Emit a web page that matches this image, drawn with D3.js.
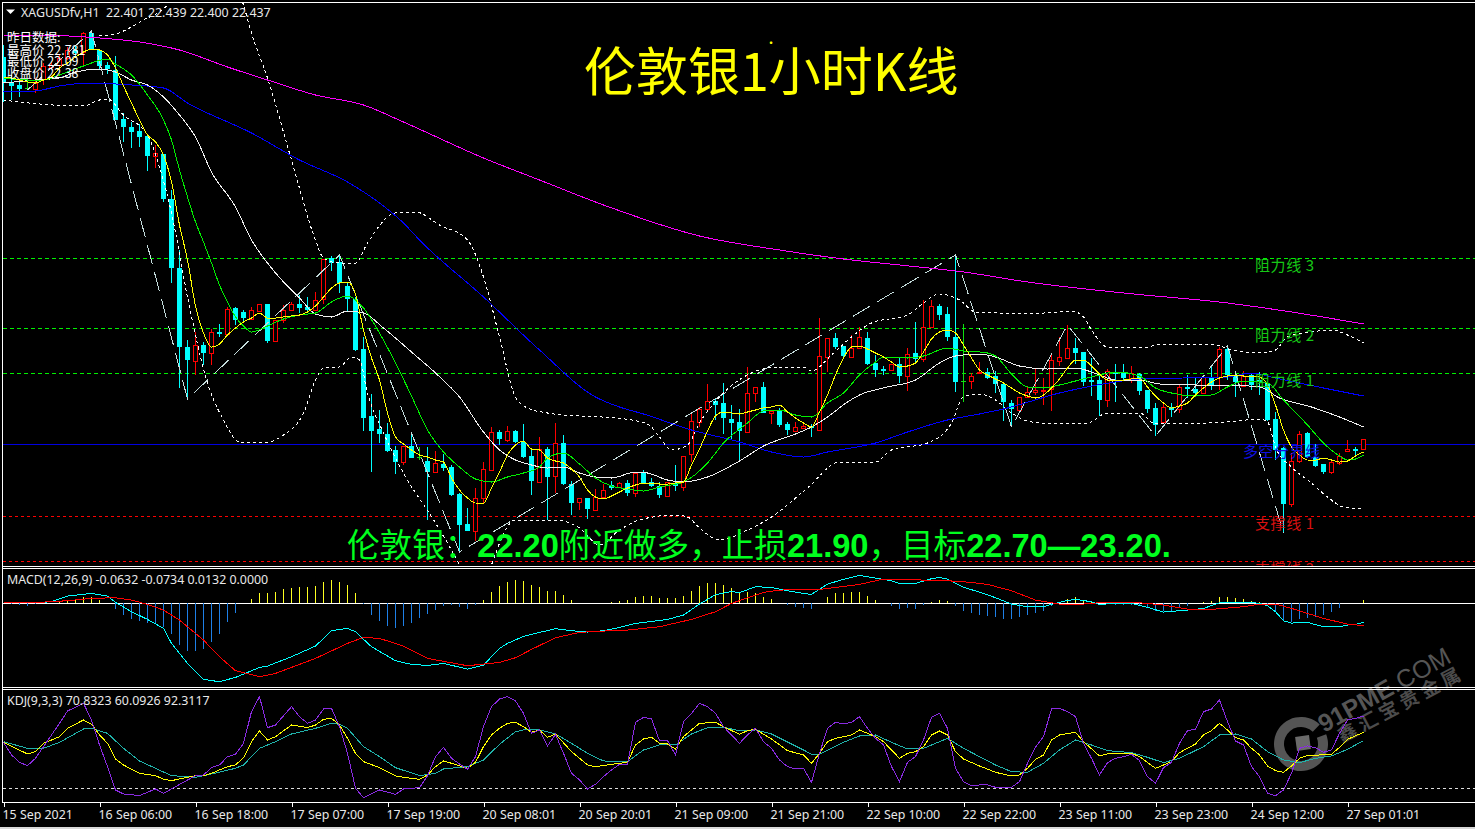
<!DOCTYPE html>
<html><head><meta charset="utf-8">
<style>html,body{margin:0;padding:0;background:#000;overflow:hidden}svg{display:block}</style>
<script src="https://cdn.jsdelivr.net/npm/d3@7/dist/d3.min.js"></script>
</head><body><svg id="c" width="1475" height="829"></svg>
<script>
// ---- candles (silver, H1), one value per bar ----
const candleOpen=[23.972,23.868,23.86,23.848,23.844,23.884,23.932,23.94,23.968,24.0,23.992,24.068,24.0,23.94,23.92,23.724,23.692,23.676,23.656,23.576,23.584,23.404,23.128,22.812,22.756,22.82,22.788,22.872,22.864,22.968,22.952,22.924,22.956,22.984,22.836,22.92,22.96,22.984,22.972,22.96,23.004,23.168,23.152,23.056,23.004,22.804,22.536,22.484,22.464,22.4,22.352,22.416,22.372,22.356,22.312,22.344,22.332,22.224,22.104,22.076,22.208,22.32,22.472,22.44,22.476,22.432,22.376,22.272,22.404,22.296,22.428,22.264,22.192,22.208,22.16,22.212,22.26,22.252,22.268,22.228,22.308,22.272,22.256,22.216,22.268,22.252,22.384,22.512,22.564,22.596,22.588,22.524,22.512,22.472,22.628,22.652,22.548,22.556,22.504,22.476,22.488,22.496,22.48,22.772,22.848,22.816,22.772,22.808,22.848,22.748,22.724,22.72,22.744,22.696,22.788,22.764,22.892,22.976,22.944,22.852,22.676,22.676,22.708,22.712,22.696,22.664,22.588,22.56,22.612,22.632,22.636,22.644,22.756,22.768,22.808,22.792,22.68,22.68,22.6,22.712,22.708,22.688,22.704,22.64,22.568,22.512,22.572,22.564,22.652,22.644,22.628,22.692,22.692,22.804,22.7,22.656,22.7,22.68,22.668,22.524,22.408,22.184,22.356,22.468,22.372,22.344,22.312,22.348,22.396,22.404,22.404];
const candleHigh=[24.02,23.9,23.88,23.872,23.888,23.948,23.952,23.98,24.012,24.016,24.072,24.076,24.0,23.952,23.976,23.748,23.712,23.704,23.66,23.62,23.584,23.44,23.2,22.84,22.872,22.832,22.884,22.904,22.972,22.972,22.96,22.972,22.984,22.984,22.92,22.98,22.992,23.02,23.012,23.032,23.164,23.176,23.18,23.068,23.012,22.852,22.624,22.56,22.508,22.416,22.416,22.472,22.412,22.412,22.396,22.384,22.34,22.228,22.168,22.248,22.352,22.492,22.48,22.496,22.48,22.504,22.4,22.452,22.412,22.508,22.46,22.276,22.208,22.208,22.244,22.264,22.276,22.272,22.28,22.312,22.32,22.288,22.272,22.272,22.34,22.376,22.548,22.572,22.664,22.608,22.668,22.58,22.564,22.732,22.652,22.672,22.56,22.568,22.512,22.512,22.504,22.504,22.928,22.848,22.868,22.816,22.86,22.892,22.872,22.78,22.736,22.744,22.768,22.808,22.912,23.0,23.0,22.984,22.972,23.18,22.904,22.708,22.752,22.728,22.716,22.664,22.6,22.612,22.652,22.724,22.688,22.78,22.852,22.9,22.848,22.792,22.768,22.708,22.724,22.744,22.744,22.736,22.708,22.64,22.588,22.588,22.588,22.66,22.7,22.688,22.7,22.732,22.812,22.816,22.708,22.716,22.708,22.712,22.668,22.552,22.412,22.388,22.476,22.472,22.424,22.344,22.36,22.388,22.44,22.412,22.444];
const candleLow=[23.792,23.8,23.812,23.84,23.828,23.86,23.924,23.932,23.96,23.976,23.94,24.0,23.92,23.904,23.72,23.632,23.608,23.612,23.516,23.528,23.392,23.068,22.648,22.604,22.7,22.74,22.74,22.852,22.864,22.9,22.908,22.92,22.952,22.828,22.836,22.908,22.956,22.948,22.952,22.956,22.984,23.116,23.028,22.956,22.796,22.476,22.312,22.428,22.392,22.304,22.34,22.368,22.36,22.12,22.308,22.316,22.216,21.992,22.076,22.036,22.188,22.32,22.42,22.432,22.428,22.368,22.22,22.272,22.12,22.228,22.26,22.14,22.16,22.124,22.16,22.212,22.24,22.248,22.216,22.212,22.264,22.252,22.208,22.212,22.236,22.236,22.352,22.492,22.564,22.52,22.464,22.444,22.352,22.468,22.592,22.548,22.504,22.492,22.46,22.476,22.484,22.452,22.476,22.712,22.804,22.768,22.772,22.804,22.74,22.692,22.7,22.716,22.668,22.636,22.748,22.752,22.892,22.92,22.836,22.632,22.592,22.644,22.708,22.684,22.628,22.516,22.492,22.556,22.608,22.62,22.58,22.556,22.736,22.768,22.744,22.656,22.616,22.536,22.572,22.592,22.68,22.668,22.62,22.548,22.456,22.508,22.532,22.548,22.608,22.612,22.628,22.64,22.64,22.68,22.612,22.652,22.64,22.62,22.516,22.36,22.068,22.172,22.348,22.368,22.332,22.304,22.304,22.34,22.396,22.38,22.404];
const candleClose=[23.868,23.856,23.844,23.848,23.868,23.936,23.94,23.968,24.0,23.988,24.068,24.004,23.936,23.924,23.72,23.692,23.672,23.652,23.576,23.588,23.404,23.128,22.812,22.76,22.82,22.788,22.872,22.864,22.964,22.92,22.928,22.96,22.984,22.836,22.92,22.96,22.984,22.968,22.96,23.0,23.164,23.148,23.068,23.004,22.8,22.528,22.476,22.464,22.396,22.352,22.416,22.368,22.372,22.312,22.348,22.328,22.22,22.1,22.076,22.208,22.324,22.472,22.444,22.476,22.432,22.372,22.276,22.404,22.292,22.428,22.264,22.188,22.208,22.164,22.212,22.24,22.248,22.268,22.228,22.308,22.268,22.256,22.22,22.272,22.256,22.376,22.516,22.564,22.596,22.58,22.528,22.508,22.476,22.628,22.652,22.548,22.556,22.5,22.48,22.492,22.496,22.488,22.776,22.848,22.812,22.776,22.808,22.852,22.744,22.72,22.72,22.744,22.696,22.784,22.764,22.892,22.976,22.94,22.852,22.672,22.676,22.696,22.712,22.688,22.664,22.592,22.564,22.612,22.632,22.64,22.64,22.76,22.772,22.808,22.788,22.672,22.672,22.6,22.716,22.704,22.688,22.708,22.636,22.564,22.5,22.572,22.56,22.652,22.644,22.628,22.692,22.66,22.804,22.7,22.672,22.696,22.66,22.672,22.52,22.4,22.184,22.356,22.464,22.372,22.336,22.312,22.352,22.376,22.404,22.4,22.444];
// ---- moving averages ----
const maFast=[23.892,23.888,23.88,23.872,23.868,23.88,23.892,23.928,23.948,23.972,23.992,24.004,24.0,23.98,23.928,23.856,23.788,23.72,23.66,23.632,23.58,23.472,23.3,23.16,22.976,22.868,22.812,22.824,22.86,22.888,22.912,22.928,22.948,22.928,22.928,22.932,22.936,22.94,22.952,22.976,23.012,23.048,23.068,23.072,23.024,22.88,22.768,22.68,22.548,22.452,22.424,22.4,22.38,22.372,22.36,22.352,22.288,22.24,22.208,22.188,22.188,22.248,22.312,22.38,22.42,22.436,22.404,22.4,22.368,22.356,22.348,22.324,22.292,22.24,22.212,22.204,22.216,22.232,22.248,22.26,22.268,22.268,22.264,22.264,22.268,22.272,22.34,22.404,22.476,22.536,22.552,22.548,22.544,22.552,22.56,22.568,22.572,22.58,22.552,22.528,22.508,22.492,22.552,22.62,22.7,22.768,22.812,22.816,22.804,22.788,22.772,22.752,22.732,22.736,22.748,22.792,22.844,22.872,22.88,22.868,22.82,22.768,22.72,22.7,22.684,22.668,22.648,22.628,22.616,22.608,22.62,22.648,22.684,22.728,22.76,22.76,22.736,22.704,22.68,22.68,22.68,22.684,22.688,22.652,22.616,22.588,22.568,22.576,22.588,22.62,22.648,22.672,22.688,22.696,22.7,22.696,22.696,22.692,22.66,22.58,22.48,22.412,22.38,22.36,22.36,22.368,22.36,22.352,22.356,22.376,22.392];
const maMid=[[0,23.888],[3,23.88],[5,23.88],[7,23.9],[10,23.936],[13,23.964],[14,23.944],[16,23.9],[18,23.82],[20,23.72],[21,23.64],[22,23.52],[23,23.412],[24,23.312],[25,23.232],[26,23.148],[27,23.06],[28,22.992],[29,22.932],[30,22.896],[31,22.872],[33,22.896],[35,22.924],[37,22.94],[39,22.948],[41,22.992],[43,23.016],[45,22.968],[47,22.868],[49,22.748],[51,22.616],[53,22.48],[55,22.392],[57,22.332],[59,22.284],[61,22.272],[63,22.292],[65,22.308],[67,22.332],[68,22.368],[70,22.388],[72,22.344],[74,22.288],[76,22.256],[78,22.244],[80,22.236],[82,22.252],[85,22.272],[88,22.348],[90,22.428],[93,22.508],[95,22.556],[97,22.56],[99,22.54],[101,22.532],[103,22.588],[105,22.628],[107,22.7],[109,22.752],[110,22.772],[113,22.768],[115,22.776],[118,22.808],[120,22.796],[122,22.792],[123,22.788],[124,22.776],[126,22.704],[128,22.652],[130,22.648],[132,22.66],[134,22.676],[137,22.7],[139,22.712],[142,22.696],[144,22.648],[146,22.628],[149,22.616],[151,22.62],[153,22.652],[155,22.676],[158,22.668],[160,22.6],[163,22.5],[165,22.428],[167,22.376],[168,22.36],[169,22.364],[170,22.38]];
const maSlow=[[0,23.868],[4,23.88],[7,23.888],[9,23.912],[12,23.924],[14,23.912],[16,23.88],[18,23.86],[20,23.812],[22,23.74],[24,23.652],[26,23.512],[29,23.372],[31,23.24],[33,23.148],[35,23.072],[37,23.008],[39,22.944],[41,22.932],[43,22.956],[45,22.948],[47.5,22.888],[51,22.792],[54,22.708],[57,22.612],[60,22.472],[62,22.4],[64,22.36],[66,22.34],[68,22.328],[70,22.332],[72,22.308],[74,22.292],[76,22.288],[79,22.312],[80.5,22.308],[83,22.28],[85,22.272],[88,22.292],[92,22.356],[95,22.416],[99,22.464],[101,22.492],[103,22.532],[105.5,22.592],[107,22.62],[110.5,22.652],[114,22.68],[117,22.748],[119,22.776],[122,22.784],[124,22.772],[127,22.736],[130.5,22.724],[134,22.728],[137,22.7],[139,22.68],[142,22.68],[144.5,22.664],[149,22.66],[153,22.66],[157,22.652],[159.5,22.608],[163.5,22.572],[167,22.532],[170,22.492]];
const maBlue=[[0,23.832],[4,23.836],[7,23.856],[10.5,23.868],[16,23.86],[20,23.848],[23,23.788],[31,23.668],[37,23.56],[43,23.472],[47,23.388],[50,23.308],[52,23.24],[60,23.012],[67,22.8],[74,22.612],[77,22.572],[80,22.544],[86,22.48],[92,22.432],[96,22.392],[100,22.372],[103,22.392],[109,22.428],[113,22.472],[118,22.52],[122,22.544],[125,22.564],[132,22.628],[139,22.672],[142,22.684],[153,22.692],[156,22.708],[159,22.688],[165,22.648],[170,22.616]];
const maMagenta=[[0,24.06],[4,24.06],[12,24.048],[17,24.032],[22,24.0],[28,23.932],[33,23.88],[39,23.82],[45,23.78],[50,23.712],[60,23.568],[67,23.48],[75,23.38],[87,23.256],[97,23.2],[106,23.16],[112,23.14],[120,23.112],[128,23.072],[140,23.028],[153,22.988],[161,22.952],[170,22.904]];
const bandUpper=[[12,24.056],[13.5,24.06],[17.5,24.12],[20.5,24.18],[25,24.44],[30,24.18],[31,24.068],[33,23.888],[36,23.56],[39,23.24],[40,23.168],[42,23.148],[44,23.148],[45.5,23.228],[49,23.348],[51.5,23.352],[54.5,23.3],[58,23.24],[60,23.092],[62,22.852],[64,22.612],[65.5,22.568],[68,22.548],[72,22.536],[76.5,22.528],[80.5,22.504],[82,22.452],[83.5,22.4],[85.5,22.42],[87,22.508],[90,22.628],[94.5,22.72],[97,22.732],[100,22.732],[101,22.716],[103.5,22.78],[106,22.852],[108.5,22.908],[113,22.94],[115,22.988],[117,23.024],[119.5,23.0],[121.5,22.952],[124.5,22.948],[130,22.948],[133.5,22.956],[135,22.932],[136,22.88],[138,22.812],[143,22.812],[144.5,22.824],[151,22.824],[153.5,22.8],[157,22.788],[159,22.8],[160.5,22.852],[163.5,22.872],[166,22.88],[168,22.86],[170,22.828]];
const bandLower=[[0,23.8],[2,23.792],[10,23.776],[12,23.8],[13,23.804],[15,23.74],[18,23.66],[19.6,23.52],[21,23.348],[23,23.012],[25.5,22.668],[27.5,22.52],[29.5,22.432],[33,22.432],[35,22.46],[37.5,22.548],[39,22.68],[40,22.728],[42,22.732],[43.5,22.772],[44.5,22.76],[45.5,22.628],[47.5,22.468],[50,22.308],[54,22.108],[57,21.94],[58.5,21.84],[60,21.84],[61,21.94],[64,22.12],[67,22.116],[69,22.12],[72,22.088],[74.5,22.02],[77,22.08],[79.5,22.12],[84,22.14],[85.5,22.132],[87,22.088],[89.5,22.04],[93,22.08],[96,22.132],[100.5,22.248],[104.5,22.352],[109,22.352],[111,22.4],[115.5,22.428],[118.5,22.508],[120,22.612],[122,22.624],[124,22.6],[126,22.548],[128.5,22.512],[132,22.504],[135.5,22.508],[138,22.548],[142,22.548],[144,22.504],[153,22.512],[157,22.524],[158,22.512],[159,22.412],[161,22.332],[163.5,22.268],[165.5,22.212],[167.5,22.172],[170,22.164]];
const zigzag=[[3,23.84],[11,24.076],[23,22.604],[42,23.18],[57,21.992],[119,23.18],[126,22.492],[133,22.9],[144,22.456],[153,22.816],[160,22.068]];
// ---- horizontal levels ----
const levelNames=["阻力线 3","阻力线 2","阻力线 1","多空分界线","支撑线 1","支撑线 2"];
const levelPrices=[23.164,22.884,22.708,22.42,22.132,21.956];
const levelColors=["#00f000","#00f000","#00f000","#0000e0","#ff0000","#ff0000"];
// ---- MACD ----
const macdHist=[0,-.002,-.005,-.007,-.003,0,0,.005,.01,.013,.018,.018,.01,0,-.017,-.035,-.047,-.053,-.06,-.06,-.07,-.092,-.125,-.142,-.142,-.138,-.115,-.092,-.056,-.03,0,.012,.032,.032,.034,.043,.046,.049,.049,.052,.064,.07,.064,.055,.031,-.003,-.035,-.053,-.068,-.074,-.068,-.058,-.044,-.032,-.02,-.008,-.005,-.011,-.017,-.004,.01,.034,.052,.064,.07,.067,.055,.049,.037,.037,.025,.01,0,0,0,0,.004,.007,.01,.019,.022,.022,.016,.016,.016,.022,.037,.052,.061,.061,.055,.046,.034,.034,.031,.019,.013,0,-.005,-.011,-.014,-.017,0,.019,.031,.031,.034,.034,.022,.01,0,-.008,-.017,-.014,-.017,-.005,.004,.01,.007,-.008,-.023,-.029,-.035,-.038,-.041,-.047,-.047,-.041,-.035,-.029,-.023,-.007,0,.013,.019,.01,.004,0,0,-.004,-.004,-.004,-.005,-.014,-.023,-.023,-.023,-.014,-.008,0,.004,.007,.019,.019,.016,.013,.007,.004,-.008,-.023,-.05,-.056,-.047,-.044,-.041,-.035,-.026,-.014,0,0,.01];
const macdLine=[[0,.002],[4,.002],[6,.005],[8,.022],[11,.03],[13,.022],[14,.003],[16,-.025],[18,-.048],[20,-.075],[21,-.12],[23,-.18],[25,-.228],[27,-.235],[29,-.222],[32,-.192],[33,-.188],[36,-.16],[39,-.128],[40,-.105],[41,-.082],[43,-.075],[44,-.085],[46,-.13],[49,-.172],[51,-.183],[53,-.186],[55,-.18],[58,-.197],[60,-.185],[62,-.135],[63,-.12],[65,-.099],[67,-.087],[69,-.076],[71,-.082],[73,-.086],[75,-.082],[77,-.072],[79,-.06],[81,-.054],[83,-.048],[85,-.035],[87,-.002],[89,.026],[91,.036],[92,.032],[94,.05],[96,.048],[98,.038],[100,.03],[101,.027],[103,.058],[105,.072],[107,.084],[109,.076],[111,.068],[112,.06],[114,.06],[116,.074],[117,.078],[118,.073],[120,.048],[122,.034],[124,.017],[126,-.002],[128,-.01],[130,-.01],[131,-.003],[133,.009],[134,.012],[136,.005],[137,-.003],[139,0],[141,0],[143,-.012],[145,-.026],[147,-.022],[148,-.02],[150,-.015],[152,.002],[154,.002],[156,.003],[157,0],[158,-.007],[159,-.025],[160,-.052],[161,-.059],[163,-.057],[165,-.07],[167,-.07],[168,-.065],[169,-.063],[170,-.057]];
const macdSignal=[[0,.004],[5,.004],[8,.008],[11,.015],[14,.017],[16,.01],[18,-.003],[20,-.02],[22,-.05],[25,-.11],[27,-.16],[29,-.202],[32,-.22],[34,-.21],[39,-.165],[43,-.12],[45,-.102],[47,-.105],[50,-.128],[53,-.165],[58,-.187],[62,-.177],[64,-.163],[66,-.138],[69,-.103],[72,-.087],[74,-.084],[78,-.08],[82,-.07],[86,-.048],[89,-.025],[91,0],[95,.033],[97,.04],[102,.042],[107,.057],[110,.073],[113,.073],[116,.068],[118,.068],[121,.063],[123,.057],[126,.038],[129,.01],[132,-.002],[135,-.002],[137,.002],[142,.002],[145,-.005],[148,-.017],[151,-.018],[155,-.01],[157,-.002],[159,-.002],[161,-.015],[165,-.045],[168,-.062],[170,-.067]];
// ---- KDJ ----
const kdjJ=[[0,55.2],[1,40],[2,31.2],[3,27.2],[4,36],[5,50],[6,64],[7,78],[8,92.8],[10,102],[11,82],[12,52],[13,26],[14,-2],[15,-6.8],[17,-8.8],[19,-.8],[20,-6],[24,15.2],[25,16],[26,24.8],[27,28],[28,38],[29,40.8],[30,54],[31,92],[32,110],[33,72.8],[34,76],[36,98],[37,86],[38,78],[39,82],[40,95.2],[41,96],[42,74],[43,42],[44,0],[45,-11.2],[47,-2],[49,-7.2],[50,-.8],[52,.8],[53,15.2],[54,38],[55,49.2],[56,36],[57,29.2],[58,22.8],[59,38],[60,74],[61,98],[62,107.2],[63,110],[64,104.8],[65,90],[66,66],[67,70],[68,50.8],[69,64.8],[70,42],[71,18],[72,10],[73,-.8],[74,4.8],[75,14],[76,22],[77,28.8],[78,28.8],[79,79.2],[80,85.2],[81,83.2],[82,57.2],[83,57.2],[84,40],[85,80],[86,90],[87,102],[88,98],[89,90],[90,74],[91,64],[92,54],[93,64],[94,72],[95,56],[96,48],[97,34],[98,26],[99,23.2],[100,24],[101,7.2],[102,42],[103,72],[104,79.2],[105,77.2],[106,79.2],[107,86],[108,72],[109,60],[110,52],[111,26],[112,8],[113,31.2],[114,38],[115,58],[116,85.2],[117,90],[118,72],[119,24],[120,8],[121,2.8],[122,4],[123,4],[124,1.2],[125,.8],[126,1.2],[127,8],[128,30],[129,49.2],[130,62],[131,95.2],[132,96],[133,92],[134,86],[135,54],[136,36],[137,16],[138,30.8],[139,36],[140,38],[141,40.8],[142,33.2],[143,14],[144,6],[145,24.8],[146,31.2],[147,54],[148,69.2],[149,70.8],[150,92],[151,95.2],[152,106],[153,80],[154,56.8],[155,52],[156,26],[157,14],[158,-6],[159,-8.8],[160,-2],[161,18],[162,48],[163,50.8],[164,48.8],[165,43.2],[166,46],[167,66],[168,82],[169,84],[170,86.8]];
const kdjK=[[0,55.2],[3,41.2],[4,44],[5,54],[7,62],[8,72],[10,82],[11,76.8],[12,64],[13,54],[14,35.2],[15,28],[17,18],[19,15.2],[20,10.8],[21,9.2],[24,15.2],[25,15.2],[26,18],[28,26],[29,28],[30,36.8],[31,56],[32,68.8],[33,58],[34,62],[36,76],[38,72.8],[39,76],[40,82.8],[41,84],[42,76],[43,60],[44,42],[45,32],[47,24.8],[49,14.8],[50,13.2],[52,10.8],[53,16],[54,26],[55,32.8],[56,30],[58,24],[59,31.2],[60,50],[61,64],[62,72],[63,78],[64,79.2],[65,74],[66,67.2],[67,70],[68,61.2],[69,65.2],[71,44],[73,28],[74,26],[77,30],[78,31.2],[79,52],[80,59.2],[81,61.2],[82,54],[83,53.2],[84,47.2],[85,62],[87,78],[89,79.2],[90,74],[92,64.8],[93,69.2],[94,70.8],[96,59.2],[98,45.2],[100,40],[101,30],[102,42],[103,56],[104,60],[106,64],[107,70],[109,62],[110,56],[112,36],[113,42],[114,44],[115,50],[116,64],[117,68.8],[118,64],[119,44],[120,35.2],[122,26.8],[124,19.2],[126,14.8],[127,16],[128,24],[129,34.8],[130,40],[131,58],[132,64],[134,67.2],[135,56],[137,38.8],[138,41.2],[141,42],[142,38],[144,24],[146,32],[147,42.8],[149,53.2],[150,64],[151,69.2],[152,78],[153,70],[154,60.8],[155,58],[156,48],[157,40],[158,26.8],[159,21.2],[160,19.2],[161,26.8],[162,36],[163,39.2],[166,40.8],[167,49.2],[168,58.8],[170,67.2]];
const kdjD=[[0,56],[3,48],[5,48],[7,55.2],[10,71.2],[11,72],[13,66],[15,48],[17,32.8],[19,24],[21,15.2],[24,13.2],[26,17.2],[29,24],[30,28],[32,48],[34,56],[36,65.2],[39,72],[41,78],[42,76.8],[43,72],[45,50],[47,38],[49,24.8],[52,15.2],[54,18],[55,23.2],[58,26],[60,34],[62,52.8],[64,68],[65,70],[67,70],[69,65.2],[71,54],[73,42],[75,32.8],[78,32],[80,46],[82,52],[84,52],[86,65.2],[88,72.8],[90,73.2],[92,69.2],[94,70],[96,65.2],[100,46],[101,40.8],[102,40.8],[105,55.2],[107,62.8],[109,64],[111,55.2],[113,47.2],[115,48],[118,60],[120,48],[124,28],[126,20],[128,19.2],[130,30],[132,46],[134,58],[136,52],[138,45.2],[141,42.8],[143,37.2],[145,30.8],[147,36],[150,50],[152,64],[154,65.2],[156,59.2],[158,44],[160,34],[162,30.8],[164,36],[166,38.8],[168,46.8],[170,57.2]];
const kdjLevel=0;
// ---- time axis ----
const tickBars=[0,12,24,36,48,60,72,84,96,108,120,132,144,156,168];
const tickLabels=["15 Sep 2021","16 Sep 06:00","16 Sep 18:00","17 Sep 07:00","17 Sep 19:00","20 Sep 08:01","20 Sep 20:01","21 Sep 09:00","21 Sep 21:00","22 Sep 10:00","22 Sep 22:00","23 Sep 11:00","23 Sep 23:00","24 Sep 12:00","27 Sep 01:01"];
const symbolLine="XAGUSDfv,H1  22.401 22.439 22.400 22.437";
const yesterdayLines=["昨日数据:","最高价 22.781","最低价 22.09","收盘价 22.38"];

const CJK='"Noto Sans CJK SC"',UI='"Noto Sans","Noto Sans CJK SC",sans-serif';
const svg=d3.select("#c");
svg.append("rect").attr("width",1475).attr("height",829).attr("fill","#000");
const x=d3.scaleLinear().domain([0,170]).range([3.5,1363.5]);
const y=d3.scaleLinear().domain([24.2,22.0]).range([0,550]);
const yM=d3.scaleLinear().domain([0,-.252]).range([603.4,687.4]);
const yK=d3.scaleLinear().domain([0,100]).range([788.3,705]);
const defs=svg.append("defs");
[["cMain",3,3,1472,563],["cMacd",3,569,1472,118],["cKdj",3,690,1472,112]].forEach(([id,a,b,w,h])=>defs.append("clipPath").attr("id",id).append("rect").attr("x",a).attr("y",b).attr("width",w).attr("height",h));

// watermark sits under everything
const wm=svg.append("g");
wm.append("path").attr("d",d3.arc().innerRadius(17).outerRadius(27).startAngle(1.2).endAngle(7.05)()).attr("transform","translate(1301,744)").attr("fill","#555");
wm.append("rect").attr("x",-7).attr("y",-7).attr("width",14).attr("height",14).attr("transform","translate(1303,743) rotate(-8)").attr("fill","#6a6a6a");
const w1=wm.append("text").attr("transform","translate(1324,733) rotate(-29)").attr("font-size",25).attr("fill","#555").attr("font-family",'"Liberation Sans"');
w1.append("tspan").text("91PME").attr("font-weight","bold");
w1.append("tspan").text(".COM");
wm.append("text").text("鑫汇宝贵金属").attr("transform","translate(1342,743) rotate(-28)").attr("font-family",CJK).attr("font-size",19).attr("font-weight","bold").attr("letter-spacing","4.4").attr("fill","#4c4c4c");

// frames
const frame=svg.append("g").attr("stroke","#fff").attr("shape-rendering","crispEdges");
[2.5,566.5,568.5,687.5,689.5,802.5].forEach(v=>frame.append("line").attr("x1",2).attr("x2",1475).attr("y1",v).attr("y2",v));
frame.append("line").attr("x1",2.5).attr("x2",2.5).attr("y1",2).attr("y2",803);

const main=svg.append("g").attr("clip-path","url(#cMain)");
// levels
levelPrices.forEach((p,k)=>{
  const l=main.append("line").attr("x1",3).attr("x2",1475).attr("y1",Math.floor(y(p))+.5).attr("y2",Math.floor(y(p))+.5).attr("stroke",levelColors[k]).attr("shape-rendering","crispEdges");
  if(k!==3) l.attr("stroke-dasharray",k<3?"4 3":"3 3");
});
// candles
const bars=d3.range(candleOpen.length);
const cg=main.append("g").attr("shape-rendering","crispEdges");
bars.forEach(i=>{
  const o=candleOpen[i],c=candleClose[i],up=c>o,doji=c===o;
  const col=doji?"#10e010":up?"#ff0000":"#00ffff";
  const px=Math.floor(x(i))+.5;
  cg.append("line").attr("x1",px).attr("x2",px).attr("y1",y(candleHigh[i])).attr("y2",y(candleLow[i])).attr("stroke",col);
  const t=Math.round(y(Math.max(o,c))),b=Math.round(y(Math.min(o,c)));
  if(doji) cg.append("line").attr("x1",px-2.5).attr("x2",px+2.5).attr("y1",t+.5).attr("y2",t+.5).attr("stroke",col);
  else if(up) cg.append("rect").attr("x",px-2).attr("y",t+.5).attr("width",4).attr("height",Math.max(b-t,1)).attr("fill","#000").attr("stroke",col);
  else cg.append("rect").attr("x",px-2.5).attr("y",t).attr("width",5).attr("height",Math.max(b-t,2)).attr("fill",col);
});
const lineP=d3.line().x(d=>x(d[0])).y(d=>y(d[1]));
const smooth=d3.line().curve(d3.curveMonotoneX).x(d=>x(d[0])).y(d=>y(d[1]));
function draw(g,gen,data,col,w,dash){const p=g.append("path").attr("d",gen(data)).attr("fill","none").attr("stroke",col).attr("stroke-width",w).attr("shape-rendering","crispEdges");if(dash)p.attr("stroke-dasharray",dash);return p;}
draw(main,lineP,zigzag,"#c4dcdc",1,"20 8");
draw(main,smooth,bandUpper,"#fff",1,"3 3");
draw(main,smooth,bandLower,"#fff",1,"3 3");
draw(main,smooth,maMagenta,"#ff00ff",1);
draw(main,smooth,maBlue,"#0000ff",1);
draw(main,smooth,maSlow,"#f0f0f0",1);
draw(main,smooth,maMid,"#00f000",1);
draw(main,smooth,maFast.map((v,i)=>[i,v]),"#ffff00",1);
// level labels
const labelX=[1255,1255,1255,1243,1255,1255];
levelNames.forEach((n,k)=>{
  main.append("text").text(n).attr("x",labelX[k]).attr("y",Math.floor(y(levelPrices[k]))+13)
   .attr("font-family",CJK).attr("font-size",15).attr("letter-spacing",k===3?"0.5":"0.6").attr("fill",k<3?"#16c816":k>3?"#d81010":"#1010e0");
});
// title + call text
main.append("text").text("伦敦银1小时K线").attr("x",584).attr("y",91).attr("font-family",CJK).attr("font-size",52).attr("fill","#ffff00");
main.append("text").text("·").attr("x",765).attr("y",48).attr("font-family",CJK).attr("font-size",12).attr("fill","#ffff00");
const call=main.append("text").attr("x",347).attr("y",557).attr("font-size",32.6).attr("fill","#00ff1e");
[["伦敦银：",0],["22.20",1],["附近做多，止损",0],["21.90",1],["，目标",0],["22.70—23.20.",1]].forEach(([t,b])=>{
  call.append("tspan").text(t).attr("font-family",b?'"Liberation Sans"':CJK).attr("font-weight",b?"bold":"normal");
});
// info text
main.append("path").attr("d","M6,9.5H15L10.5,14Z").attr("fill","#fff");
main.append("text").text(symbolLine).attr("x",21).attr("y",17).attr("style","white-space:pre").attr("font-family",UI).attr("font-size",12.4).attr("fill","#e8e8e8");
yesterdayLines.forEach((t,k)=>main.append("text").text(t).attr("x",7).attr("y",[42,55,66,78][k]).attr("font-family",CJK).attr("font-size",12.5).attr("fill","#fff"));

// MACD
const mg=svg.append("g").attr("clip-path","url(#cMacd)");
mg.append("line").attr("x1",3).attr("x2",1475).attr("y1",603.5).attr("y2",603.5).attr("stroke","#fff").attr("shape-rendering","crispEdges");
const mb=mg.append("g").attr("shape-rendering","crispEdges");
macdHist.forEach((v,i)=>{ if(v===0)return;
  const px=Math.floor(x(i))+.5;
  mb.append("line").attr("x1",px).attr("x2",px).attr("y1",603).attr("y2",yM(v)).attr("stroke",v>0?"#ffff20":"#1e80e8");
});
const mLine=d3.line().x(d=>x(d[0])).y(d=>yM(d[1]));
draw(mg,mLine,macdLine,"#00ffff",1);
draw(mg,mLine,macdSignal,"#ff0000",1);
mg.append("text").text("MACD(12,26,9) -0.0632 -0.0734 0.0132 0.0000").attr("x",7).attr("y",584).attr("font-family",UI).attr("font-size",12.4).attr("fill","#e8e8e8");

// KDJ
const kg=svg.append("g").attr("clip-path","url(#cKdj)");
kg.append("line").attr("x1",3).attr("x2",1475).attr("y1",yK(kdjLevel)).attr("y2",yK(kdjLevel)).attr("stroke","#ddd").attr("stroke-dasharray","3 3").attr("shape-rendering","crispEdges");
const kLine=d3.line().x(d=>x(d[0])).y(d=>yK(d[1]));
draw(kg,kLine,kdjD,"#20b2aa",1);
draw(kg,kLine,kdjK,"#ffff00",1);
draw(kg,kLine,kdjJ,"#8a2be2",1);
kg.append("text").text("KDJ(9,3,3) 70.8323 60.0926 92.3117").attr("x",7).attr("y",705).attr("font-family",UI).attr("font-size",12.4).attr("fill","#e8e8e8");

// time axis
const axis=d3.axisBottom(x).tickValues(tickBars).tickSize(4).tickPadding(4).tickFormat((d,i)=>tickLabels[i]);
const ag=svg.append("g").attr("transform","translate(0,802.5)").call(axis);
ag.select(".domain").remove();
ag.selectAll("line").attr("stroke","#fff").attr("shape-rendering","crispEdges");
ag.selectAll("text").attr("text-anchor","start").attr("dx",-1.5).attr("font-family",UI).attr("font-size",12.4).attr("fill","#e8e8e8");
svg.append("rect").attr("y",827).attr("width",1475).attr("height",2).attr("fill","#d8d8d8");
</script></body></html>
